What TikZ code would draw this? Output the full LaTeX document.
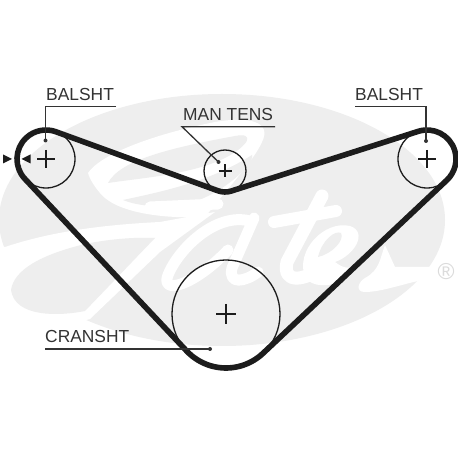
\documentclass[tikz,border=0pt]{standalone}
\usepackage{fontspec}
\setmainfont{Liberation Sans}
\definecolor{wm}{HTML}{EEEEEE}
\definecolor{ink}{HTML}{1C1C1C}
\definecolor{leadc}{HTML}{333333}
\tikzset{
  pulley/.style={circle,draw=ink,line width=1.3pt,inner sep=0pt,minimum size=#1},
  beltline/.style={draw=ink,line width=5.6pt,line join=round},
  leader/.style={draw=leadc,line width=1.3pt},
  cross/.style={draw=ink,line width=1.2pt},
  lbl/.style={anchor=base west,inner sep=0pt,text=leadc,font=\fontsize{17.4}{18}\selectfont},
  dotm/.style={fill=leadc,draw=none},
  tip/.style={fill=ink,draw=none},
  wmfill/.style={fill=wm,draw=none},
  wmcut/.style={fill=white,draw=none},
  wmstroke/.style={draw=white,line width=#1,line cap=round,line join=round}
}
\newcommand{\plusmark}[2]{\draw[cross] ($(#1)+(-#2,0)$) -- ($(#1)+(#2,0)$); \draw[cross] ($(#1)+(0,-#2)$) -- ($(#1)+(0,#2)$);}
\usetikzlibrary{calc}
\begin{document}
\begin{tikzpicture}[x=1pt,y=1pt]
\useasboundingbox (0,0) rectangle (458,458);
\fill[white] (0,0) rectangle (458,458);
\begin{scope}[shift={(0,458)},yscale=-1]
% watermark
\begin{scope}
\clip (0,0) rectangle (458,458);
\fill[wmfill] (222,220) ellipse [x radius=223,y radius=126];
% G upper swash
\fill[wmcut] (88,173) .. controls (100,155) and (150,135) .. (215,122) .. controls (250,116) and (272,122) .. (262,142) .. controls (255,158) and (235,180) .. (205,217) .. controls (160,219) and (115,212) .. (100,193) .. controls (95,187) and (90,180) .. (88,173) -- cycle;
\fill[wmfill] (108,183) .. controls (120,160) and (170,148) .. (235,136) .. controls (255,132) and (250,145) .. (225,158) .. controls (190,175) and (140,178) .. (108,183) -- cycle;
\fill[wmfill] (123,200) .. controls (160,192) and (210,182) .. (252,155) .. controls (255,165) and (220,195) .. (190,203) .. controls (165,208) and (140,207) .. (123,200) -- cycle;
% lower swash
\fill[wmcut] (-1,247) -- (5,247) .. controls (50,232) and (100,225) .. (160,222) -- (215,212) -- (160,252) -- (90,319) -- (-1,345) -- cycle;
\fill[wmfill] (11,290) .. controls (14,270) and (40,255) .. (85,244) .. controls (110,239) and (135,237) .. (155,238) -- (85,311) .. controls (60,316) and (15,318) .. (11,290) -- cycle;
% G crossbar
\draw[wmstroke=11pt] (150,207) -- (218,204);
% a
\draw[wmstroke=11pt] (250,221) .. controls (215,212) and (178,250) .. (168,275) .. controls (160,296) and (195,285) .. (228,250);
\draw[wmstroke=11pt] (254,218) -- (232,268) .. controls (228,285) and (245,282) .. (258,272);
% t
\draw[wmstroke=13pt] (322,196) -- (287,262) .. controls (282,285) and (305,280) .. (322,268);
\draw[wmstroke=12pt] (274,222) -- (336,211);
% e
\fill[wmcut] (305,277) .. controls (295,250) and (325,220) .. (350,226) .. controls (368,232) and (355,255) .. (335,262) .. controls (345,270) and (352,268) .. (358,266) -- (345,280) .. controls (330,287) and (312,288) .. (305,277) -- cycle;
\fill[wmfill] (318,257) .. controls (322,240) and (335,230) .. (341,233) .. controls (345,240) and (332,254) .. (318,257) -- cycle;
% s
\fill[wmcut] (385,245) -- (395,267) -- (440,267) -- (418,281) .. controls (400,285) and (380,292) .. (365,292) .. controls (355,292) and (358,282) .. (365,278) .. controls (380,270) and (380,258) .. (385,245) -- cycle;
\end{scope}
\node[inner sep=0pt,text=wm!92!black!100,font=\fontsize{23}{24}\selectfont] (reg) at (446,272) {®};
% pulleys
\node[pulley=58pt] (L) at (46,159) {};
\node[pulley=42pt] (M) at (225,171) {};
\node[pulley=58pt] (R) at (427,159) {};
\node[pulley=108pt] (C) at (226,314) {};
\plusmark{L}{9}
\plusmark{M}{6.5}
\plusmark{R}{9}
\plusmark{C}{10}
% belt
\draw[beltline] ($(L)+(-70:29)$) -- ($(M)+(110:21)$) arc[start angle=110,end angle=72.3,radius=21]
 -- ($(R)+(-107.7:29)$) arc[start angle=-107.7,end angle=46.7,radius=29]
 -- ($(C)+(46.7:54)$) arc[start angle=46.7,end angle=136.8,radius=54]
 -- ($(L)+(136.8:29)$) arc[start angle=136.8,end angle=290,radius=29] -- cycle;
% labels
\node[lbl] (t1) at (46,101) {BALSHT};
\node[lbl] (t2) at (183,121) {MAN TENS};
\node[lbl] (t3) at (355,101) {BALSHT};
\node[lbl] (t4) at (45,343) {CRANSHT};
% leaders
\coordinate (a1) at (116,106.7);
\coordinate (a2) at (45.5,106.7);
\coordinate (a3) at (45.5,140.5);
\draw[leader] (a1) -- (a2) -- (a3);
\fill[dotm] (a3) circle (2);
\coordinate (b1) at (275,126.7);
\coordinate (b2) at (182,126.7);
\coordinate (b3) at (218.5,162);
\draw[leader] (b1) -- (b2) -- (b3);
\fill[dotm] (b3) circle (2);
\coordinate (c1) at (355,106.7);
\coordinate (c2) at (426,106.7);
\coordinate (c3) at (426,141);
\draw[leader] (c1) -- (c2) -- (c3);
\fill[dotm] (c3) circle (2);
\coordinate (d1) at (45,349);
\coordinate (d2) at (210,349);
\draw[leader,line width=1.6pt] (d1) -- (d2);
\fill[dotm] (d2) circle (2);
% gauge arrows
\coordinate (g1) at (12,159);
\coordinate (g2) at (21.5,159);
\fill[tip] (g1) -- ++(-9,-4.5) -- ++(0,9) -- cycle;
\fill[tip] (g2) -- ++(9,-4.5) -- ++(0,9) -- cycle;
\end{scope}
\end{tikzpicture}
\end{document}
